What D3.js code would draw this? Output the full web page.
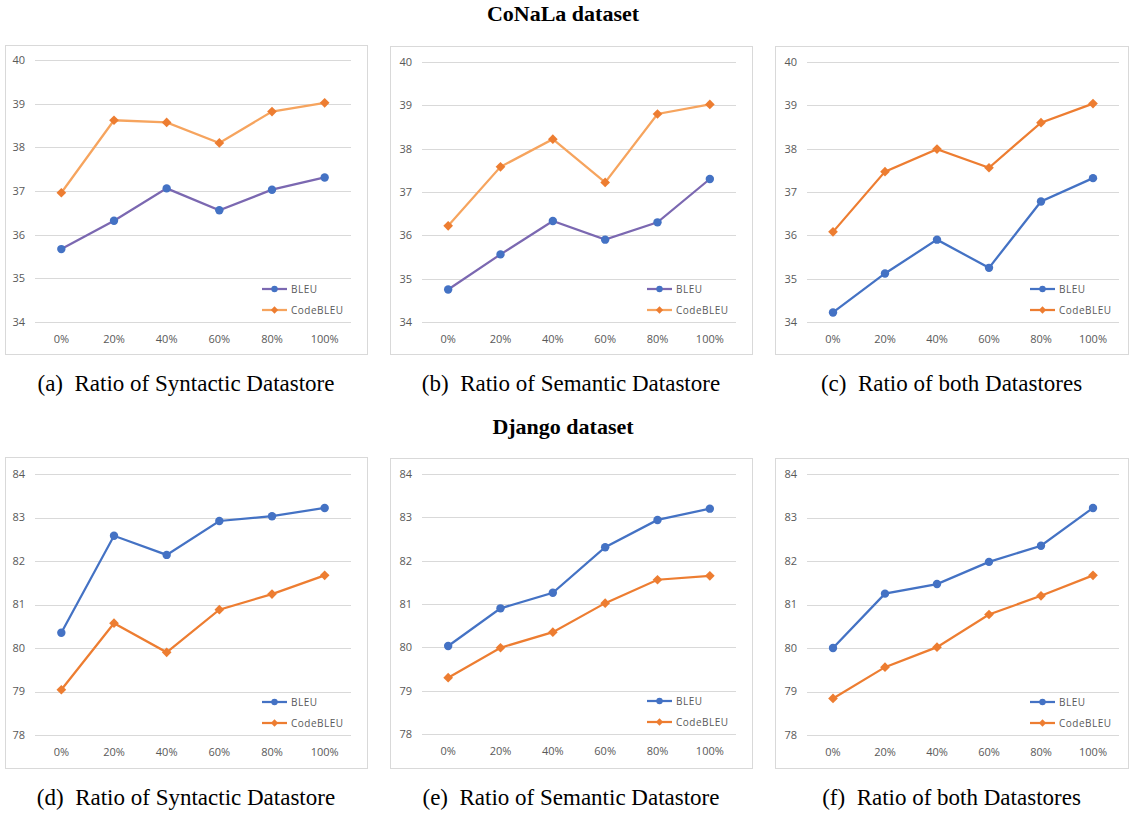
<!DOCTYPE html>
<html>
<head>
<meta charset="utf-8">
<script src="https://cdn.jsdelivr.net/npm/d3@7"></script>
<style>
  body { margin: 0; background: #fff; }
  svg { display: block; }
</style>
</head>
<body>
<script>
// categories and ticks
var ratios = ["0%", "20%", "40%", "60%", "80%", "100%"];
var conalaTicks = [34, 35, 36, 37, 38, 39, 40];
var djangoTicks = [78, 79, 80, 81, 82, 83, 84];

// CoNaLa values
var bleuA = [35.67, 36.32, 37.06, 36.56, 37.03, 37.31];
var codeA = [36.96, 38.62, 38.57, 38.10, 38.82, 39.02];
var bleuB = [34.75, 35.56, 36.33, 35.90, 36.30, 37.30];
var codeB = [36.22, 37.58, 38.22, 37.22, 38.80, 39.02];
var bleuC = [34.22, 35.12, 35.90, 35.25, 36.78, 37.32];
var codeC = [36.08, 37.47, 37.99, 37.56, 38.60, 39.04];

// Django values
var bleuD = [80.35, 82.58, 82.14, 82.92, 83.03, 83.22];
var codeD = [79.04, 80.57, 79.90, 80.88, 81.24, 81.67];
var bleuE = [80.03, 80.90, 81.26, 82.31, 82.94, 83.20];
var codeE = [79.30, 79.99, 80.35, 81.02, 81.56, 81.65];
var bleuF = [80.00, 81.25, 81.47, 81.98, 82.35, 83.22];
var codeF = [78.84, 79.56, 80.02, 80.77, 81.20, 81.67];

var captions = ["(a)\u00a0 Ratio of Syntactic Datastore", "(b)\u00a0 Ratio of Semantic Datastore",
  "(c)\u00a0 Ratio of both Datastores", "(d)\u00a0 Ratio of Syntactic Datastore",
  "(e)\u00a0 Ratio of Semantic Datastore", "(f)\u00a0 Ratio of both Datastores"];

var blue = "#4472C4", orange = "#ED7D31";
var purpleLine = "#7B68B1", lightOrangeLine = "#F6A45E";

var svg = d3.select("body").append("svg")
  .attr("width", 1130)
  .attr("height", 814);

// section titles
svg.append("text")
  .attr("x", 563).attr("y", 21)
  .attr("text-anchor", "middle")
  .style("font-family", "'Liberation Serif', 'DejaVu Serif', serif")
  .style("font-weight", "bold")
  .style("font-size", "22px")
  .text("CoNaLa dataset");

svg.append("text")
  .attr("x", 563).attr("y", 434)
  .attr("text-anchor", "middle")
  .style("font-family", "'Liberation Serif', 'DejaVu Serif', serif")
  .style("font-weight", "bold")
  .style("font-size", "22px")
  .text("Django dataset");

// panel layout: box and plot extents
var panels = [
  { box: [5, 45, 367, 354], plot: [35, 60, 351, 322], ticks: conalaTicks, bleu: bleuA, code: codeA, bleuLine: purpleLine, codeLine: lightOrangeLine, cap: captions[0], capY: 391 },
  { box: [390, 46, 752, 354], plot: [422, 62, 736, 322], ticks: conalaTicks, bleu: bleuB, code: codeB, bleuLine: purpleLine, codeLine: lightOrangeLine, cap: captions[1], capY: 391 },
  { box: [775, 46, 1128, 354], plot: [807, 62, 1119, 322], ticks: conalaTicks, bleu: bleuC, code: codeC, bleuLine: blue, codeLine: orange, cap: captions[2], capY: 391 },
  { box: [5, 457, 367, 768], plot: [35, 474, 351, 735], ticks: djangoTicks, bleu: bleuD, code: codeD, bleuLine: blue, codeLine: orange, cap: captions[3], capY: 805 },
  { box: [390, 458, 752, 768], plot: [422, 474, 736, 734], ticks: djangoTicks, bleu: bleuE, code: codeE, bleuLine: blue, codeLine: orange, cap: captions[4], capY: 805 },
  { box: [775, 458, 1128, 768], plot: [807, 474, 1119, 735], ticks: djangoTicks, bleu: bleuF, code: codeF, bleuLine: blue, codeLine: orange, cap: captions[5], capY: 805 }
];

var diamond = d3.symbol().type(d3.symbolDiamond2);

panels.forEach(function(p) {
  var g = svg.append("g");

  // outer border
  g.append("rect")
    .attr("x", p.box[0] + 0.5).attr("y", p.box[1] + 0.5)
    .attr("width", p.box[2] - p.box[0]).attr("height", p.box[3] - p.box[1])
    .attr("fill", "#fff")
    .attr("stroke", "#D9D9D9");

  var x = d3.scalePoint()
    .domain(ratios)
    .range([p.plot[0], p.plot[2]])
    .padding(0.5);

  var y = d3.scaleLinear()
    .domain([p.ticks[0], p.ticks[p.ticks.length - 1]])
    .range([p.plot[3], p.plot[1]]);

  // gridlines
  g.selectAll(".grid")
    .data(p.ticks)
    .enter().append("line")
    .attr("x1", p.plot[0]).attr("x2", p.plot[2])
    .attr("y1", d => Math.round(y(d)) + 0.5).attr("y2", d => Math.round(y(d)) + 0.5)
    .attr("stroke", "#D9D9D9");

  // y tick labels
  g.selectAll(".ylab")
    .data(p.ticks)
    .enter().append("text")
    .attr("x", p.plot[0] - 10)
    .attr("y", d => y(d))
    .attr("dy", "0.35em")
    .attr("text-anchor", "end")
    .style("font-family", "'Open Sans', 'Noto Sans', sans-serif")
    .style("font-size", "11px")
    .attr("fill", "#595959")
    .text(d => d);

  // x tick labels
  g.selectAll(".xlab")
    .data(ratios)
    .enter().append("text")
    .attr("x", d => x(d))
    .attr("y", p.plot[3] + 17)
    .attr("dy", "0.35em")
    .attr("text-anchor", "middle")
    .style("font-family", "'Open Sans', 'Noto Sans', sans-serif")
    .style("font-size", "11px")
    .attr("fill", "#595959")
    .text(d => d);

  var line = d3.line()
    .x((d, i) => x(ratios[i]))
    .y(d => y(d));

  // CodeBLEU
  g.append("path")
    .datum(p.code)
    .attr("fill", "none")
    .attr("stroke", p.codeLine)
    .attr("stroke-width", 2.25)
    .attr("d", line);

  g.selectAll(".cm")
    .data(p.code)
    .enter().append("path")
    .attr("d", diamond.size(60))
    .attr("transform", (d, i) => "translate(" + x(ratios[i]) + "," + y(d) + ")")
    .attr("fill", orange);

  // BLEU
  g.append("path")
    .datum(p.bleu)
    .attr("fill", "none")
    .attr("stroke", p.bleuLine)
    .attr("stroke-width", 2.25)
    .attr("d", line);

  g.selectAll(".bm")
    .data(p.bleu)
    .enter().append("circle")
    .attr("cx", (d, i) => x(ratios[i]))
    .attr("cy", d => y(d))
    .attr("r", 4.2)
    .attr("fill", blue);

  // legend
  var lx = p.plot[2] - 89;
  var ly = p.plot[3] - 33;
  var items = [
    { name: "BLEU", line: p.bleuLine, marker: "circle" },
    { name: "CodeBLEU", line: p.codeLine, marker: "diamond" }
  ];
  items.forEach(function(it, i) {
    var yy = ly + i * 21;
    g.append("line")
      .attr("x1", lx).attr("x2", lx + 25)
      .attr("y1", yy).attr("y2", yy)
      .attr("stroke", it.line)
      .attr("stroke-width", 2.25);
    if (it.marker === "circle") {
      g.append("circle")
        .attr("cx", lx + 12.5).attr("cy", yy).attr("r", 3.2)
        .attr("fill", blue);
    } else {
      g.append("path")
        .attr("d", diamond.size(34))
        .attr("transform", "translate(" + (lx + 12.5) + "," + yy + ")")
        .attr("fill", orange);
    }
    g.append("text")
      .attr("x", lx + 29)
      .attr("y", yy)
      .attr("dy", "0.35em")
      .style("font-family", "'Open Sans', 'Noto Sans', sans-serif")
      .style("font-size", "10px")
      .style("letter-spacing", "0.5px")
      .attr("fill", "#595959")
      .text(it.name);
  });

  // caption
  svg.append("text")
    .attr("x", (p.box[0] + p.box[2]) / 2)
    .attr("y", p.capY)
    .attr("text-anchor", "middle")
    .style("font-family", "'Liberation Serif', 'DejaVu Serif', serif")
    .style("font-size", "23px")
    .attr("fill", "#000")
    .text(p.cap);
});
</script>
</body>
</html>
